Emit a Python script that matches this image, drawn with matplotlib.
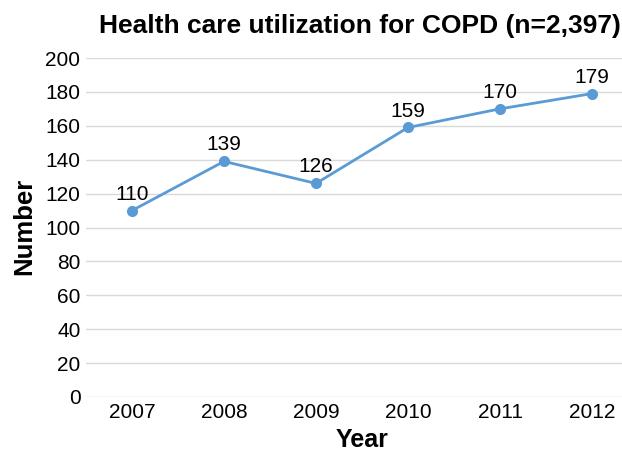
import matplotlib.pyplot as plt
import numpy as np

years = ['2007', '2008', '2009', '2010', '2011', '2012']
counts = [110, 139, 126, 159, 170, 179]

plt.rcParams['font.family'] = ['Liberation Sans', 'DejaVu Sans']

W, H = 622, 453
fig = plt.figure(figsize=(W/100, H/100), dpi=100)
# plot area in pixels: left 86, right edge of figure, y 58..397
ax = fig.add_axes([86/W, (H-397)/H, 1 - 86/W, (397-58)/H])

x = np.arange(len(years))
ax.plot(x, counts, color='#5B9BD5', lw=2, marker='o', ms=7, zorder=3)
for xi, v in zip(x, counts):
    ax.annotate(str(v), (xi, v), xytext=(0, 5), textcoords='offset points',
                ha='center', va='bottom', fontsize=15)

ax.set_xlim(-0.5, 5.326)
ax.set_ylim(0, 200)
ax.set_yticks(range(0, 201, 20))
ax.set_xticks(x)
ax.set_xticklabels(years)
ax.tick_params(length=0, labelsize=15, pad=4)
ax.grid(axis='y', color='#D9D9D9', lw=1)
ax.set_axisbelow(True)
for s in ax.spines.values():
    s.set_visible(False)

fig.text(362/W, 1/H, 'Year', ha='center', va='bottom',
         fontsize=18, fontweight='bold')
fig.text(24/W, 1 - 226/H, 'Number', ha='center', va='center', rotation=90,
         fontsize=18.5, fontweight='bold')
fig.text(99/W, 1 - 33/H, 'Health care utilization for COPD (n=2,397)',
         ha='left', va='baseline', fontsize=19, fontweight='bold')

fig.savefig('out.png', dpi=100)
